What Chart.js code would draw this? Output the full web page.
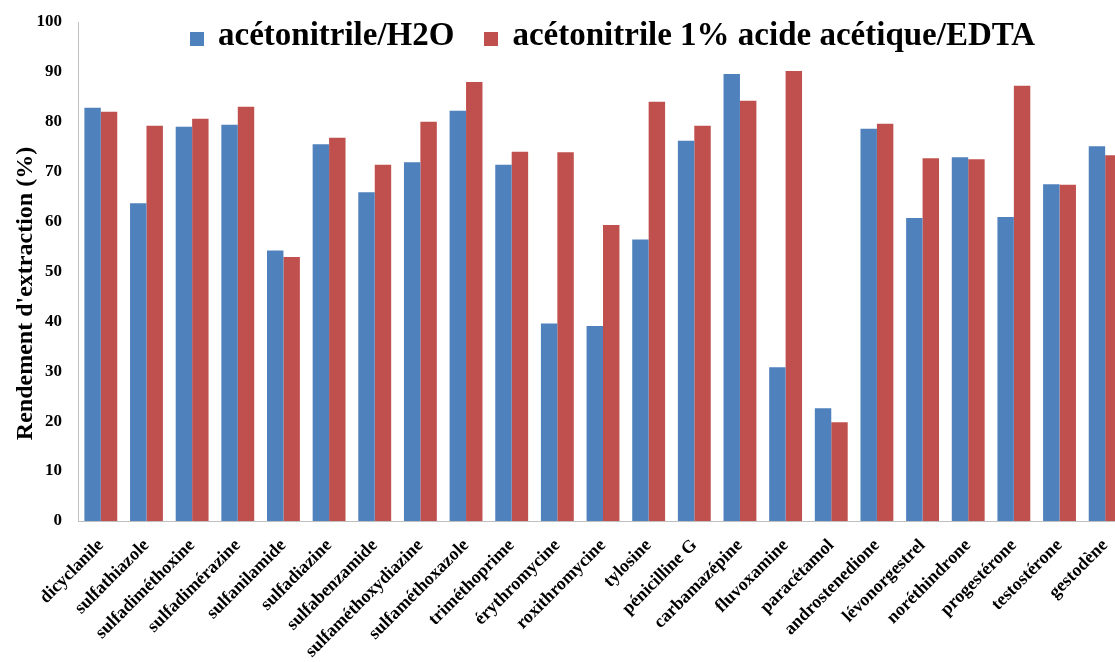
<!DOCTYPE html>
<html><head><meta charset="utf-8">
<script src="https://cdn.jsdelivr.net/npm/chart.js@4.4.0/dist/chart.umd.min.js"></script>
<style>
html,body{margin:0;padding:0;background:#fff;overflow:hidden;width:1115px;height:662px;}
#wrap{position:relative;width:1128px;height:662px;}
#legend{position:absolute;left:190px;top:18px;display:flex;font:bold 33px "Liberation Serif",serif;line-height:33px;color:#000;white-space:nowrap;}
.item{display:flex;margin-right:30px}
.box{width:14px;height:14px;margin-right:14px;position:relative;top:14px}
</style></head>
<body><div id="wrap"><canvas id="c"></canvas><div id="legend"></div></div>
<script>
const categories = ['dicyclanile','sulfathiazole','sulfadiméthoxine','sulfadimérazine','sulfanilamide','sulfadiazine','sulfabenzamide','sulfaméthoxydiazine','sulfaméthoxazole','triméthoprime','érythromycine','roxithromycine','tylosine','pénicilline G','carbamazépine','fluvoxamine','paracétamol','androstenedione','lévonorgestrel','noréthindrone','progestérone','testostérone','gestodène'];
const seriesNames = ['acétonitrile/H2O','acétonitrile 1% acide acétique/EDTA'];
const seriesColors = ['#4F81BD','#C0504D'];
const h2oValues = [82.8,63.7,79.0,79.4,54.2,75.5,65.9,71.9,82.2,71.4,39.6,39.1,56.4,76.2,89.6,30.8,22.6,78.6,60.7,72.9,60.9,67.5,75.1];
const edtaValues = [82.0,79.2,80.6,83.0,52.9,76.8,71.4,80.0,88.0,74.0,73.9,59.3,84.0,79.2,84.2,90.2,19.8,79.6,72.7,72.5,87.2,67.4,73.3];
const yMin = 0, yMax = 100, yStep = 10;
const yTitle = "Rendement d'extraction (%)";

const serif = '"Liberation Serif", "Times New Roman", serif';

const yTitlePlugin = {
  id: 'yTitle',
  afterDraw(chart) {
    const ctx = chart.ctx;
    ctx.save();
    ctx.translate(32, (chart.chartArea.top + chart.chartArea.bottom) / 2 + 22);
    ctx.rotate(-Math.PI / 2);
    ctx.font = 'bold 24px ' + serif;
    ctx.fillStyle = '#000';
    ctx.textAlign = 'center';
    ctx.textBaseline = 'alphabetic';
    ctx.fillText(yTitle, 0, 0);
    ctx.restore();
  }
};

const datasets = [h2oValues, edtaValues].map((vals, i) => ({
  label: seriesNames[i],
  data: vals,
  backgroundColor: seriesColors[i],
  borderWidth: 0,
  categoryPercentage: 0.72,
  barPercentage: 1.0
}));

const chart = new Chart(document.getElementById('c'), {
  type: 'bar',
  data: { labels: categories, datasets },
  options: {
    responsive: true,
    maintainAspectRatio: false,
    animation: false,
    layout: { padding: { top: 22, right: 0, bottom: 0, left: 0 } },
    plugins: { legend: { display: false }, tooltip: { enabled: false } },
    scales: {
      x: {
        grid: { display: false, drawTicks: false },
        border: { display: true, color: '#BFBFBF', width: 1 },
        ticks: {
          autoSkip: false, minRotation: 45, maxRotation: 45, padding: 14,
          color: '#000', font: { family: serif, size: 18, weight: 'bold' }
        },
        afterFit(s) { s.height = 141; s.paddingLeft = 0; s.paddingRight = 0; }
      },
      y: {
        min: yMin, max: yMax,
        grid: { display: false, drawTicks: false },
        border: { display: true, color: '#BFBFBF', width: 1 },
        ticks: {
          stepSize: yStep, padding: 16,
          color: '#000', font: { family: serif, size: 17, weight: 'bold' }
        },
        afterFit(s) { s.width = 78; s.paddingTop = 0; s.paddingBottom = 0; }
      }
    }
  },
  plugins: [yTitlePlugin]
});

const legendEl = document.getElementById('legend');
chart.data.datasets.forEach(ds => {
  const item = document.createElement('div');
  item.className = 'item';
  const box = document.createElement('span');
  box.className = 'box';
  box.style.background = ds.backgroundColor;
  const txt = document.createElement('span');
  txt.textContent = ds.label;
  item.appendChild(box);
  item.appendChild(txt);
  legendEl.appendChild(item);
});
</script>
</body></html>
